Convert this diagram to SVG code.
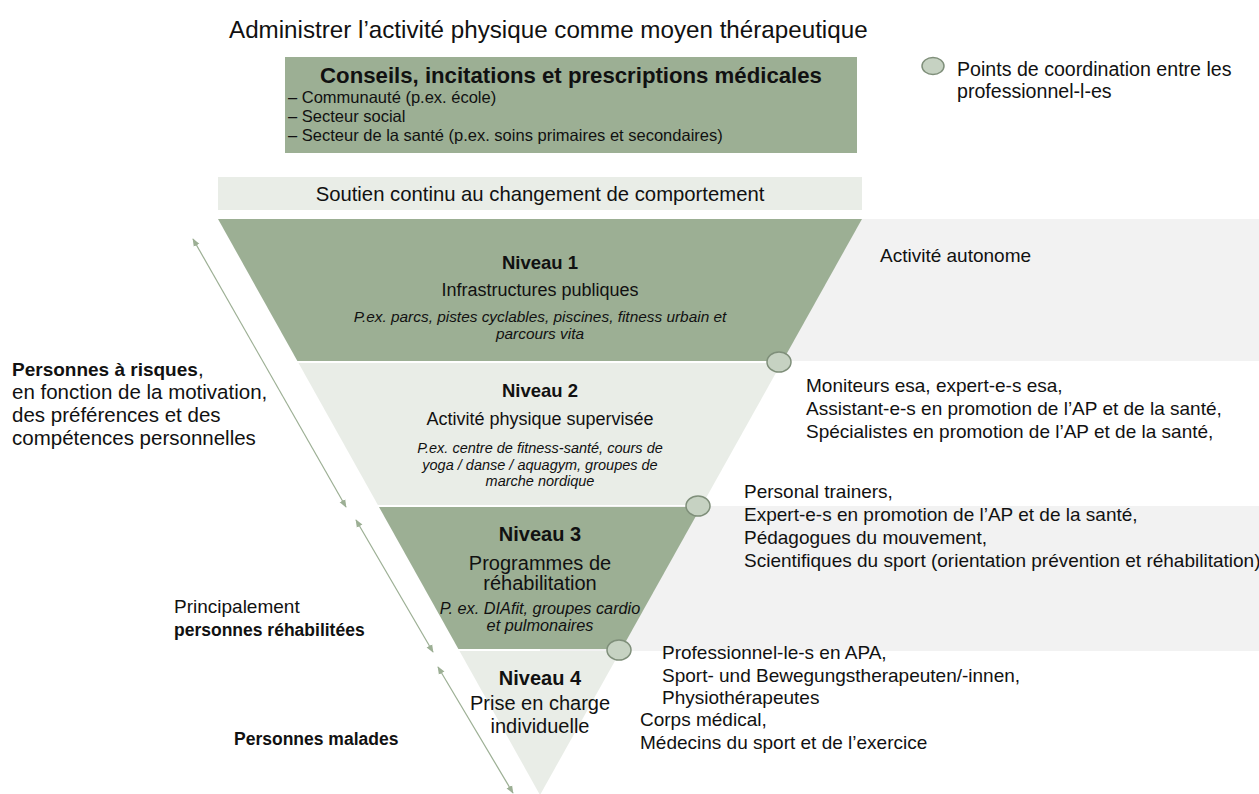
<svg xmlns="http://www.w3.org/2000/svg" width="1259" height="794" viewBox="0 0 1259 794">
<defs>
<style>
text{font-family:"Liberation Sans",Arial,sans-serif;fill:#111;}
.t{font-size:19px;}
.c{text-anchor:middle;}
.b{font-weight:bold;}
.i{font-style:italic;font-size:14.5px;}
.dark{fill:#9CAF94;}
.light{fill:#E9EDE7;}
.band{fill:#F2F2F2;}
.pt{fill:#C6D2C2;stroke:#7F8F7A;stroke-width:1.5;}
.arr{stroke:#9CAF94;stroke-width:1.2;fill:none;marker-start:url(#ah);marker-end:url(#ah);}
</style>
<marker id="ah" viewBox="0 0 10 10" refX="9" refY="5" markerWidth="8" markerHeight="8" orient="auto-start-reverse" markerUnits="userSpaceOnUse">
<path d="M0,1 L10,5 L0,9 Z" fill="#9CAF94"/>
</marker>
</defs>
<rect width="1259" height="794" fill="#fff"/>

<text id="title" x="229" y="38" style="font-size:24.2px">Administrer l’activité physique comme moyen thérapeutique</text>

<g id="conseils">
<rect class="dark" x="285" y="57" width="572" height="96"/>
<text class="c b" x="571" y="83" style="font-size:22.2px">Conseils, incitations et prescriptions médicales</text>
<text x="288" y="103" style="font-size:16.5px">– Communauté (p.ex. école)</text>
<text x="288" y="122" style="font-size:16.5px">– Secteur social</text>
<text x="288" y="141" style="font-size:16.5px">– Secteur de la santé (p.ex. soins primaires et secondaires)</text>
</g>

<g id="legend">
<ellipse class="pt" cx="933" cy="66" rx="11" ry="8.5"/>
<text x="957" y="76" style="font-size:19.6px">Points de coordination entre les</text>
<text x="957" y="98" style="font-size:19.6px">professionnel-l-es</text>
</g>

<g id="soutien">
<rect class="light" x="218" y="177" width="644" height="33"/>
<text class="c" x="540" y="201" style="font-size:20.3px">Soutien continu au changement de comportement</text>
</g>

<g id="bands">
<rect class="band" x="540" y="219" width="719" height="142"/>
<rect class="band" x="540" y="506" width="719" height="145"/>
</g>

<g id="niveau1">
<polygon class="dark" points="218,219 862,219 782.6,361 297.4,361"/>
<text class="c b" x="540" y="269" style="font-size:18.5px">Niveau 1</text>
<text class="c" x="540" y="296" style="font-size:18px">Infrastructures publiques</text>
<text class="c i" x="540" y="322" style="font-size:15.4px">P.ex. parcs, pistes cyclables, piscines, fitness urbain et</text>
<text class="c i" x="540" y="339" style="font-size:15.4px">parcours vita</text>
</g>

<g id="niveau2">
<polygon class="light" points="298.5,363 781.5,363 702.1,505 377.9,505"/>
<text class="c b" x="540" y="397" style="font-size:18.5px">Niveau 2</text>
<text class="c" x="540" y="425" style="font-size:18px">Activité physique supervisée</text>
<text class="c i" x="540" y="453">P.ex. centre de fitness-santé, cours de</text>
<text class="c i" x="540" y="470">yoga / danse / aquagym, groupes de</text>
<text class="c i" x="540" y="486">marche nordique</text>
</g>

<g id="niveau3">
<polygon class="dark" points="379,507 701,507 621.6,649 458.4,649"/>
<text class="c b" x="540" y="541" style="font-size:20px">Niveau 3</text>
<text class="c" x="540" y="570" style="font-size:20px">Programmes de</text>
<text class="c" x="540" y="590" style="font-size:20px">réhabilitation</text>
<text class="c i" x="540" y="614" style="font-size:16.3px">P. ex. DIAfit, groupes cardio</text>
<text class="c i" x="540" y="631" style="font-size:16.3px">et pulmonaires</text>
</g>

<g id="niveau4">
<polygon class="light" points="459.5,651 620.5,651 540,795"/>
<text class="c b" x="540" y="685" style="font-size:20px">Niveau 4</text>
<text class="c" x="540" y="710" style="font-size:20px">Prise en charge</text>
<text class="c" x="540" y="733" style="font-size:20px">individuelle</text>
</g>

<g id="points">
<ellipse class="pt" cx="779" cy="362" rx="12" ry="10"/>
<ellipse class="pt" cx="698" cy="506" rx="12" ry="10"/>
<ellipse class="pt" cx="619" cy="650" rx="12" ry="10"/>
</g>

<g id="autonome">
<text class="t" x="880" y="262">Activité autonome</text>
</g>

<g id="pro2">
<text class="t" x="806" y="392">Moniteurs esa, expert-e-s esa,</text>
<text class="t" x="806" y="415">Assistant-e-s en promotion de l’AP et de la santé,</text>
<text class="t" x="806" y="438">Spécialistes en promotion de l’AP et de la santé,</text>
</g>

<g id="pro3">
<text class="t" x="744" y="498">Personal trainers,</text>
<text class="t" x="744" y="521">Expert-e-s en promotion de l’AP et de la santé,</text>
<text class="t" x="744" y="544">Pédagogues du mouvement,</text>
<text class="t" x="744" y="567">Scientifiques du sport (orientation prévention et réhabilitation)</text>
</g>

<g id="pro4">
<text class="t" x="662" y="659">Professionnel-le-s en APA,</text>
<text class="t" x="662" y="682">Sport- und Bewegungstherapeuten/-innen,</text>
<text class="t" x="662" y="704">Physiothérapeutes</text>
</g>

<g id="pro5">
<text class="t" x="640" y="726">Corps médical,</text>
<text class="t" x="640" y="749">Médecins du sport et de l’exercice</text>
</g>

<g id="groupe1">
<text class="t" x="12" y="376"><tspan class="b">Personnes à risques</tspan><tspan style="font-size:20.5px">,</tspan></text>
<text x="12" y="399" style="font-size:20.5px">en fonction de la motivation,</text>
<text x="12" y="422" style="font-size:20.5px">des préférences et des</text>
<text x="12" y="445" style="font-size:20.5px">compétences personnelles</text>
</g>

<g id="groupe2">
<text class="t" x="174" y="613">Principalement</text>
<text class="b" x="174" y="636" style="font-size:17.5px">personnes réhabilitées</text>
</g>

<g id="groupe3">
<text class="b" x="234" y="745" style="font-size:17.5px">Personnes malades</text>
</g>

<g id="connectors">
<line class="arr" x1="193" y1="239" x2="346" y2="507"/>
<line class="arr" x1="356" y1="520" x2="433" y2="652"/>
<line class="arr" x1="438" y1="667" x2="513" y2="793"/>
</g>
</svg>
